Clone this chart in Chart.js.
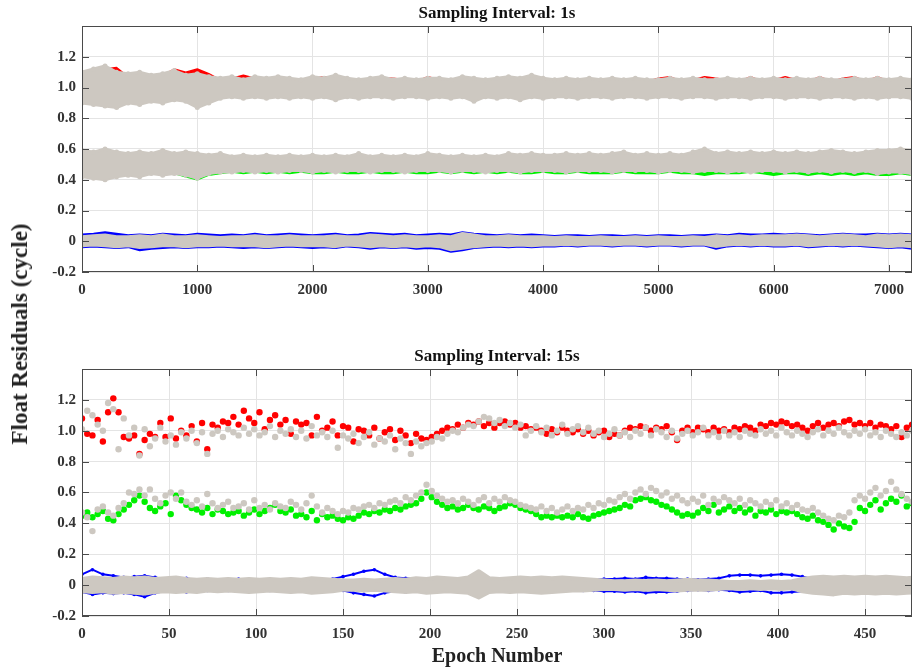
<!DOCTYPE html>
<html lang="en">
<head>
<meta charset="UTF-8">
<title>Float Residuals</title>
<script src="https://cdn.jsdelivr.net/npm/chart.js"></script>
<style>
  body { margin: 0; background: #fff; }
  #wrap { position: relative; width: 916px; height: 668px; overflow: hidden; }
  canvas { position: absolute; left: 0; }
  #topChart { top: 0; }
  #bottomChart { top: 343px; }
  #ylabel {
    position: absolute; left: 20px; top: 334px;
    transform: translate(-50%, -50%) rotate(-90deg);
    font: bold 23px "Liberation Serif", "Times New Roman", serif;
    color: #222; white-space: nowrap;
  }
</style>
</head>
<body>
<div id="wrap">
  <canvas id="topChart" width="916" height="300"></canvas>
  <canvas id="bottomChart" width="916" height="325"></canvas>
  <div id="ylabel">Float Residuals (cycle)</div>
</div>
<script>
// axis ticks
const xTicks1s = [0, 1000, 2000, 3000, 4000, 5000, 6000, 7000];
const xTicks15s = [0, 50, 100, 150, 200, 250, 300, 350, 400, 450];
const yTicks = [-0.2, 0, 0.2, 0.4, 0.6, 0.8, 1.0, 1.2];

// ---- 1 s sampling: edges of each residual band, one value per 100 epochs ----
const step1s = 100;
const grayRTop1s = [1.10, 1.12, 1.14, 1.10, 1.09, 1.10, 1.08, 1.09, 1.11, 1.08, 1.09,
  1.07, 1.06, 1.07, 1.05, 1.07, 1.06, 1.07, 1.06, 1.05, 1.07,
  1.06, 1.08, 1.06, 1.05, 1.06, 1.07, 1.05, 1.06, 1.05, 1.06,
  1.06, 1.05, 1.07, 1.06, 1.05, 1.06, 1.07, 1.06, 1.08, 1.06,
  1.05, 1.06, 1.05, 1.06, 1.05, 1.06, 1.05, 1.06, 1.05, 1.05,
  1.06, 1.05, 1.06, 1.05, 1.05, 1.06, 1.05, 1.06, 1.05, 1.06,
  1.05, 1.06, 1.05, 1.06, 1.05, 1.05, 1.06, 1.05, 1.06, 1.05,
  1.06, 1.05];
const grayRBot1s = [0.90, 0.89, 0.88, 0.87, 0.90, 0.89, 0.91, 0.90, 0.92, 0.91, 0.87,
  0.90, 0.93, 0.94, 0.93, 0.94, 0.93, 0.94, 0.93, 0.94, 0.93,
  0.94, 0.92, 0.94, 0.93, 0.94, 0.94, 0.93, 0.94, 0.94, 0.93,
  0.94, 0.93, 0.94, 0.91, 0.94, 0.93, 0.94, 0.92, 0.94, 0.93,
  0.94, 0.94, 0.93, 0.94, 0.94, 0.93, 0.94, 0.94, 0.93, 0.94,
  0.94, 0.93, 0.94, 0.94, 0.93, 0.94, 0.94, 0.93, 0.94, 0.94,
  0.93, 0.94, 0.94, 0.93, 0.94, 0.94, 0.93, 0.94, 0.93, 0.94,
  0.94, 0.93];
const redTop1s = [1.07, 1.08, 1.12, 1.13, 1.07, 1.08, 1.06, 1.08, 1.12, 1.10, 1.12,
  1.09, 1.05, 1.06, 1.08, 1.06, 1.05, 1.07, 1.05, 1.04, 1.06,
  1.07, 1.07, 1.05, 1.04, 1.05, 1.06, 1.06, 1.05, 1.04, 1.07,
  1.05, 1.04, 1.06, 1.05, 1.04, 1.05, 1.06, 1.05, 1.07, 1.05,
  1.04, 1.05, 1.04, 1.05, 1.04, 1.05, 1.04, 1.05, 1.04, 1.06,
  1.07, 1.04, 1.05, 1.07, 1.06, 1.05, 1.04, 1.07, 1.04, 1.05,
  1.07, 1.05, 1.04, 1.07, 1.04, 1.06, 1.07, 1.04, 1.07, 1.04,
  1.05, 1.04];
const grayGTop1s = [0.59, 0.58, 0.60, 0.58, 0.57, 0.58, 0.57, 0.59, 0.57, 0.58, 0.57,
  0.56, 0.57, 0.55, 0.56, 0.55, 0.56, 0.55, 0.56, 0.55, 0.56,
  0.55, 0.56, 0.55, 0.57, 0.55, 0.56, 0.55, 0.56, 0.55, 0.57,
  0.56, 0.55, 0.56, 0.55, 0.56, 0.55, 0.57, 0.56, 0.57, 0.56,
  0.56, 0.57, 0.56, 0.57, 0.56, 0.57, 0.58, 0.56, 0.57, 0.56,
  0.57, 0.56, 0.58, 0.60, 0.57, 0.58, 0.57, 0.58, 0.57, 0.58,
  0.57, 0.58, 0.57, 0.58, 0.59, 0.58, 0.57, 0.58, 0.59, 0.59,
  0.60, 0.59];
const grayGBot1s = [0.42, 0.41, 0.40, 0.42, 0.43, 0.42, 0.44, 0.43, 0.44, 0.43, 0.41,
  0.44, 0.45, 0.45, 0.46, 0.45, 0.46, 0.45, 0.46, 0.46, 0.45,
  0.46, 0.45, 0.46, 0.46, 0.45, 0.46, 0.46, 0.45, 0.46, 0.46,
  0.46, 0.45, 0.46, 0.46, 0.45, 0.46, 0.46, 0.45, 0.46, 0.46,
  0.46, 0.45, 0.46, 0.46, 0.46, 0.45, 0.46, 0.46, 0.46, 0.45,
  0.46, 0.46, 0.45, 0.46, 0.46, 0.45, 0.46, 0.45, 0.46, 0.46,
  0.45, 0.46, 0.45, 0.46, 0.45, 0.46, 0.45, 0.46, 0.44, 0.45,
  0.45, 0.44];
const greenBot1s = [0.43, 0.42, 0.41, 0.43, 0.44, 0.43, 0.45, 0.44, 0.44, 0.42, 0.40,
  0.43, 0.44, 0.45, 0.44, 0.45, 0.44, 0.45, 0.44, 0.45, 0.44,
  0.44, 0.45, 0.44, 0.44, 0.45, 0.44, 0.44, 0.45, 0.44, 0.44,
  0.45, 0.44, 0.45, 0.44, 0.45, 0.44, 0.45, 0.44, 0.44, 0.45,
  0.44, 0.44, 0.45, 0.44, 0.44, 0.44, 0.45, 0.44, 0.44, 0.44,
  0.45, 0.44, 0.44, 0.43, 0.44, 0.44, 0.44, 0.45, 0.44, 0.43,
  0.44, 0.44, 0.43, 0.44, 0.43, 0.44, 0.43, 0.44, 0.43, 0.43,
  0.44, 0.43];
const grayBTop1s = [0.03, 0.035, 0.04, 0.03, 0.03, 0.035, 0.03, 0.04, 0.03, 0.03, 0.035,
  0.03, 0.025, 0.03, 0.03, 0.035, 0.03, 0.03, 0.035, 0.03, 0.03,
  0.03, 0.035, 0.03, 0.03, 0.04, 0.035, 0.03, 0.035, 0.03, 0.03,
  0.035, 0.03, 0.05, 0.04, 0.03, 0.03, 0.035, 0.03, 0.03, 0.03,
  0.025, 0.03, 0.025, 0.025, 0.03, 0.025, 0.025, 0.03, 0.025, 0.03,
  0.025, 0.025, 0.03, 0.025, 0.035, 0.03, 0.035, 0.03, 0.035, 0.035,
  0.035, 0.04, 0.035, 0.03, 0.035, 0.04, 0.035, 0.03, 0.04, 0.035,
  0.04, 0.035];
const grayBBot1s = [-0.03, -0.025, -0.03, -0.035, -0.03, -0.04, -0.035, -0.03, -0.03, -0.035, -0.03,
  -0.03, -0.025, -0.03, -0.03, -0.03, -0.035, -0.03, -0.025, -0.03, -0.03,
  -0.03, -0.035, -0.025, -0.03, -0.035, -0.03, -0.035, -0.03, -0.035, -0.03,
  -0.035, -0.055, -0.045, -0.035, -0.03, -0.025, -0.03, -0.025, -0.03, -0.025,
  -0.025, -0.02, -0.025, -0.02, -0.02, -0.025, -0.02, -0.02, -0.025, -0.02,
  -0.02, -0.025, -0.02, -0.02, -0.035, -0.025, -0.02, -0.025, -0.02, -0.025,
  -0.025, -0.02, -0.03, -0.025, -0.02, -0.025, -0.02, -0.025, -0.03, -0.035,
  -0.03, -0.035];
const blueTop1s = [0.045, 0.05, 0.06, 0.05, 0.04, 0.045, 0.04, 0.05, 0.045, 0.04, 0.05,
  0.045, 0.04, 0.045, 0.04, 0.05, 0.04, 0.045, 0.05, 0.045, 0.04,
  0.045, 0.05, 0.04, 0.045, 0.055, 0.05, 0.045, 0.05, 0.04, 0.045,
  0.05, 0.045, 0.06, 0.05, 0.045, 0.04, 0.045, 0.04, 0.045, 0.04,
  0.035, 0.04, 0.04, 0.035, 0.04, 0.04, 0.035, 0.04, 0.035, 0.04,
  0.04, 0.035, 0.04, 0.04, 0.045, 0.04, 0.05, 0.045, 0.045, 0.05,
  0.045, 0.05, 0.045, 0.04, 0.045, 0.05, 0.045, 0.045, 0.05, 0.045,
  0.05, 0.045];
const blueBot1s = [-0.04, -0.035, -0.04, -0.045, -0.04, -0.06, -0.05, -0.045, -0.04, -0.045, -0.04,
  -0.04, -0.035, -0.04, -0.045, -0.04, -0.045, -0.04, -0.035, -0.04, -0.045,
  -0.04, -0.045, -0.035, -0.04, -0.05, -0.04, -0.045, -0.04, -0.05, -0.045,
  -0.05, -0.07, -0.06, -0.045, -0.04, -0.035, -0.04, -0.035, -0.04, -0.035,
  -0.035, -0.03, -0.035, -0.03, -0.03, -0.035, -0.03, -0.03, -0.035, -0.03,
  -0.03, -0.035, -0.03, -0.03, -0.05, -0.035, -0.03, -0.035, -0.03, -0.035,
  -0.035, -0.03, -0.04, -0.035, -0.03, -0.035, -0.03, -0.035, -0.04, -0.045,
  -0.04, -0.05];

// ---- 15 s sampling: residuals every 3rd epoch ----
const step15s = 3;
const red15s = [1.08, 0.98, 0.97, 1.07, 0.93, 1.12, 1.21, 1.12, 0.96, 0.95,
  0.97, 0.85, 0.94, 0.98, 0.96, 1.05, 0.96, 1.08, 0.95, 1.00,
  0.97, 1.03, 0.93, 1.05, 0.88, 1.04, 1.02, 1.06, 1.05, 1.09,
  1.04, 1.13, 1.08, 1.05, 1.12, 1.01, 1.07, 1.10, 1.04, 1.07,
  0.98, 1.06, 1.04, 1.05, 0.97, 1.09, 1.00, 1.02, 1.06, 0.97,
  1.03, 1.02, 0.93, 1.01, 1.00, 0.97, 1.02, 0.95, 0.99, 1.01,
  0.94, 1.00, 0.97, 0.92, 0.98, 0.95, 0.94, 0.96, 0.98, 1.00,
  1.02, 1.01, 1.04, 1.02, 1.05, 1.04, 1.06, 1.03, 1.05, 1.02,
  1.05, 1.06, 1.04, 1.05, 1.02, 1.03, 1.01, 1.02, 1.00, 0.98,
  1.01, 0.99, 1.02, 1.00, 0.99, 1.01, 0.98, 1.00, 0.97, 0.99,
  1.00, 0.96, 0.98, 0.97, 1.00, 1.02, 1.01, 1.03, 1.02, 1.00,
  1.02, 1.01, 1.03, 0.99, 0.94, 1.00, 1.02, 0.99, 1.02, 1.01,
  0.99, 1.02, 1.00, 1.01, 0.99, 1.02, 1.01, 1.03, 1.02, 1.00,
  1.04, 1.03, 1.05, 1.04, 1.06, 1.05, 1.03, 1.04, 1.02, 1.00,
  1.03, 1.05, 1.02, 1.04, 1.05, 1.03, 1.06, 1.07, 1.04, 1.05,
  1.03, 1.05, 1.02, 1.04, 1.03, 1.01, 1.03, 0.96, 1.02, 1.04];
const grayR15s = [1.01, 1.13, 1.10, 1.04, 1.00, 1.18, 1.14, 0.88, 1.08, 0.97,
  1.02, 0.84, 1.01, 0.90, 0.95, 1.02, 0.93, 0.97, 0.91, 0.99,
  0.95, 1.00, 0.92, 0.99, 0.85, 0.98, 1.00, 0.96, 1.01, 0.99,
  0.97, 1.02, 0.98, 1.01, 0.97, 0.99, 1.03, 0.96, 1.00, 0.98,
  1.01, 0.96, 1.00, 0.95, 1.03, 0.97, 0.99, 0.96, 1.00, 0.89,
  0.97, 0.95, 0.98, 0.92, 0.96, 0.99, 0.91, 0.95, 0.93, 0.97,
  0.88, 0.95, 0.92, 0.85, 0.93, 0.90, 0.92, 0.93, 0.96, 0.95,
  0.98, 1.00, 0.99, 1.02, 1.04, 1.03, 1.06, 1.09, 1.08, 1.05,
  1.07, 1.03, 1.05, 1.02, 1.04, 0.97, 1.00, 1.03, 0.99, 1.02,
  0.97, 1.00, 1.04, 0.98, 1.01, 1.03, 0.99, 1.02, 0.98, 1.00,
  0.96, 0.98, 1.01, 0.97, 0.99, 0.96, 1.00, 0.98, 1.02, 0.97,
  1.01, 0.99, 0.96, 1.00, 0.95, 0.98, 1.00, 0.97, 0.99, 1.02,
  0.97, 0.99, 0.96, 1.00, 0.97, 0.99, 0.96, 1.00, 0.98, 0.97,
  1.01, 0.98, 1.00, 0.97, 1.02, 0.99, 0.97, 1.00, 0.98, 0.96,
  0.99, 1.01, 0.97, 1.00, 0.98, 1.02, 0.99, 0.97, 1.00, 0.98,
  1.01, 0.97, 0.99, 0.96, 1.00, 0.98, 0.96, 0.99, 0.97, 1.00];
const green15s = [0.45, 0.47, 0.44, 0.46, 0.48, 0.43, 0.42, 0.46, 0.49, 0.52,
  0.55, 0.58, 0.54, 0.50, 0.48, 0.51, 0.53, 0.46, 0.58, 0.55,
  0.52, 0.50, 0.49, 0.47, 0.50, 0.46, 0.49, 0.48, 0.46, 0.47,
  0.48, 0.45, 0.47, 0.49, 0.46, 0.48, 0.50, 0.52, 0.48, 0.47,
  0.49, 0.45, 0.46, 0.44, 0.48, 0.42, 0.46, 0.44, 0.45, 0.43,
  0.42, 0.44, 0.43, 0.45, 0.47, 0.46, 0.48, 0.47, 0.49, 0.48,
  0.50, 0.49, 0.51, 0.52, 0.53, 0.56, 0.60, 0.57, 0.54, 0.52,
  0.50, 0.51, 0.49, 0.50, 0.52, 0.50, 0.49, 0.51, 0.50, 0.48,
  0.50, 0.51, 0.53, 0.52, 0.50, 0.49, 0.48, 0.46, 0.44, 0.45,
  0.44, 0.45, 0.44, 0.45, 0.44, 0.46, 0.44, 0.43, 0.45, 0.46,
  0.47, 0.48, 0.49, 0.50, 0.52, 0.51, 0.55, 0.56, 0.57, 0.55,
  0.54, 0.52, 0.51, 0.49, 0.47, 0.45, 0.46, 0.45, 0.47, 0.50,
  0.48, 0.52, 0.47, 0.49, 0.51, 0.48, 0.50, 0.47, 0.49, 0.45,
  0.48, 0.47, 0.49, 0.46, 0.48, 0.47, 0.48, 0.46, 0.44, 0.43,
  0.45, 0.42, 0.41, 0.39, 0.36, 0.40, 0.38, 0.37, 0.41, 0.50,
  0.48, 0.52, 0.55, 0.49, 0.53, 0.56, 0.54, 0.58, 0.51, 0.53];
const grayG15s = [0.47, 0.44, 0.35, 0.49, 0.51, 0.47, 0.45, 0.50, 0.53, 0.60,
  0.59, 0.62, 0.58, 0.62, 0.56, 0.53, 0.58, 0.60, 0.56, 0.60,
  0.54, 0.52, 0.55, 0.51, 0.59, 0.53, 0.50, 0.52, 0.54, 0.50,
  0.51, 0.53, 0.49, 0.55, 0.50, 0.52, 0.49, 0.53, 0.51, 0.50,
  0.54, 0.52, 0.49, 0.53, 0.58, 0.51, 0.47, 0.50, 0.48, 0.46,
  0.48, 0.47, 0.50, 0.49, 0.51, 0.52, 0.50, 0.53, 0.52, 0.54,
  0.55, 0.53, 0.57, 0.55, 0.58, 0.60, 0.65, 0.61, 0.58, 0.56,
  0.54, 0.55, 0.53, 0.56, 0.54, 0.52, 0.55, 0.57, 0.53, 0.56,
  0.54, 0.57, 0.55, 0.54, 0.52, 0.51, 0.50, 0.49, 0.51, 0.48,
  0.50, 0.47, 0.49, 0.51, 0.48, 0.50, 0.49, 0.52, 0.50, 0.53,
  0.52, 0.55, 0.54, 0.57, 0.59, 0.56, 0.60, 0.62, 0.59, 0.63,
  0.61, 0.58, 0.60, 0.56, 0.58, 0.55, 0.53, 0.56, 0.54, 0.58,
  0.52, 0.56, 0.54, 0.57, 0.55, 0.53, 0.56, 0.52, 0.55, 0.53,
  0.51, 0.54, 0.52, 0.55, 0.51, 0.53, 0.50, 0.52, 0.49, 0.48,
  0.50, 0.47, 0.45, 0.43, 0.42, 0.45, 0.44, 0.47, 0.55, 0.58,
  0.56, 0.60, 0.63, 0.58, 0.61, 0.67, 0.62, 0.59, 0.56, 0.54];

// zero-centred residuals at 15 s: band edges every 6th epoch
const stepZero15s = 6;
const blueTop15s = [0.07, 0.10, 0.07, 0.06, 0.05, 0.055, 0.06, 0.05, 0.04, 0.04,
  0.045, 0.03, 0.04, 0.035, 0.03, 0.04, 0.035, 0.03, 0.035, 0.03,
  0.035, 0.03, 0.035, 0.03, 0.04, 0.055, 0.07, 0.09, 0.10, 0.07,
  0.05, 0.045, 0.04, 0.035, 0.04, 0.035, 0.04, 0.04, 0.05, 0.035,
  0.03, 0.03, 0.035, 0.03, 0.03, 0.035, 0.03, 0.03, 0.035, 0.035,
  0.04, 0.04, 0.045, 0.04, 0.05, 0.045, 0.045, 0.04, 0.04, 0.035,
  0.04, 0.045, 0.06, 0.065, 0.065, 0.06, 0.065, 0.07, 0.065, 0.055,
  0.04, 0.04, 0.035, 0.04, 0.035, 0.04, 0.035, 0.04, 0.035, 0.04,
  0.035];
const blueBot15s = [-0.045, -0.06, -0.05, -0.055, -0.05, -0.06, -0.075, -0.05, -0.04, -0.035,
  -0.045, -0.04, -0.035, -0.04, -0.035, -0.04, -0.035, -0.04, -0.035, -0.04,
  -0.035, -0.04, -0.035, -0.04, -0.035, -0.035, -0.05, -0.06, -0.07, -0.05,
  -0.04, -0.045, -0.04, -0.035, -0.04, -0.035, -0.04, -0.045, -0.06, -0.04,
  -0.035, -0.03, -0.035, -0.03, -0.035, -0.03, -0.035, -0.03, -0.035, -0.035,
  -0.04, -0.04, -0.045, -0.04, -0.05, -0.045, -0.045, -0.04, -0.035, -0.03,
  -0.035, -0.03, -0.035, -0.045, -0.04, -0.035, -0.05, -0.05, -0.045, -0.04,
  -0.035, -0.04, -0.035, -0.04, -0.035, -0.04, -0.035, -0.04, -0.035, -0.04,
  -0.035];
const grayZTop15s = [0.04, 0.05, 0.045, 0.04, 0.05, 0.045, 0.05, 0.04, 0.045, 0.05,
  0.04, 0.035, 0.04, 0.035, 0.04, 0.035, 0.04, 0.035, 0.04, 0.035,
  0.04, 0.035, 0.045, 0.04, 0.035, 0.03, 0.03, 0.035, 0.03, 0.035,
  0.04, 0.035, 0.045, 0.04, 0.05, 0.045, 0.04, 0.05, 0.09, 0.045,
  0.04, 0.045, 0.05, 0.045, 0.05, 0.045, 0.05, 0.045, 0.04, 0.035,
  0.03, 0.025, 0.025, 0.03, 0.025, 0.03, 0.025, 0.03, 0.035, 0.03,
  0.03, 0.025, 0.02, 0.02, 0.025, 0.02, 0.025, 0.02, 0.025, 0.04,
  0.05, 0.055, 0.05, 0.055, 0.05, 0.055, 0.05, 0.055, 0.05, 0.045,
  0.05];
const grayZBot15s = [-0.04, -0.045, -0.04, -0.05, -0.045, -0.05, -0.055, -0.045, -0.04, -0.045,
  -0.04, -0.045, -0.035, -0.04, -0.035, -0.04, -0.045, -0.04, -0.035, -0.04,
  -0.045, -0.04, -0.05, -0.045, -0.04, -0.03, -0.03, -0.035, -0.03, -0.035,
  -0.04, -0.045, -0.04, -0.05, -0.045, -0.04, -0.045, -0.05, -0.08, -0.045,
  -0.04, -0.045, -0.04, -0.045, -0.05, -0.045, -0.04, -0.035, -0.035, -0.03,
  -0.025, -0.025, -0.03, -0.025, -0.03, -0.025, -0.03, -0.035, -0.03, -0.03,
  -0.03, -0.025, -0.02, -0.025, -0.02, -0.025, -0.02, -0.025, -0.02, -0.04,
  -0.05, -0.055, -0.06, -0.05, -0.055, -0.05, -0.055, -0.05, -0.055, -0.05,
  -0.045];

const RED = '#ff0000', GREEN = '#00f000', BLUE = '#0000ff', GRAY = '#cdc8c1';
const SERIF = '"Liberation Serif", "Times New Roman", serif';

const toPoints = (vals, step) => vals.map((y, i) => ({ x: i * step, y }));

// band edge line (fill target given by the caller)
function edge(vals, step, color, width, fill, order, dot = 0) {
  return {
    data: toPoints(vals, step), borderColor: color, backgroundColor: color,
    borderWidth: width, pointRadius: dot, pointBorderWidth: 0, fill, order, clip: 0,
    borderJoinStyle: 'round', borderCapStyle: 'round'
  };
}

// single scatter series
function dots(vals, step, color, order) {
  return {
    data: toPoints(vals, step), showLine: false, fill: false, order, clip: 0,
    pointRadius: 3.2, pointBorderWidth: 0, backgroundColor: color, borderColor: color
  };
}

// box around the plot with inward tick marks on all four sides
const frame = {
  id: 'frame',
  afterDraw(chart) {
    const { ctx, chartArea: a, scales: { x, y } } = chart;
    ctx.save();
    ctx.strokeStyle = '#4a4a4a';
    ctx.lineWidth = 1;
    ctx.strokeRect(a.left + 0.5, a.top + 0.5, a.width - 1, a.height - 1);
    ctx.beginPath();
    x.ticks.forEach(t => {
      const px = Math.round(x.getPixelForValue(t.value)) + 0.5;
      ctx.moveTo(px, a.bottom); ctx.lineTo(px, a.bottom - 7);
      ctx.moveTo(px, a.top); ctx.lineTo(px, a.top + 7);
    });
    y.ticks.forEach(t => {
      const py = Math.round(y.getPixelForValue(t.value)) + 0.5;
      ctx.moveTo(a.left, py); ctx.lineTo(a.left + 7, py);
      ctx.moveTo(a.right, py); ctx.lineTo(a.right - 7, py);
    });
    ctx.stroke();
    ctx.restore();
  }
};

const tickFont = { family: SERIF, size: 15, weight: 'bold' };

function panelOptions(title, xMax, xTicks, xHeight, xTitle) {
  return {
    responsive: false,
    animation: false,
    events: [],
    layout: { padding: { left: 0, right: 1, top: 0, bottom: 0 } },
    plugins: {
      legend: { display: false },
      tooltip: { enabled: false },
      title: {
        display: true, text: title, fullSize: false, color: '#111',
        font: { family: SERIF, size: 17, weight: 'bold', lineHeight: 1 },
        padding: { top: 5, bottom: 4 }
      }
    },
    scales: {
      x: {
        type: 'linear', min: 0, max: xMax,
        afterBuildTicks: s => { s.ticks = xTicks.map(v => ({ value: v })); },
        afterFit: s => { s.height = xHeight; },
        grid: { color: '#e4e4e4', drawTicks: false },
        border: { display: false },
        ticks: {
          padding: 9, color: '#333', font: tickFont,
          maxRotation: 0, autoSkip: false, callback: v => String(v)
        },
        title: xTitle ? {
          display: true, text: xTitle, color: '#222',
          font: { family: SERIF, size: 20, weight: 'bold', lineHeight: 1.1 },
          padding: { top: 0, bottom: 0 }
        } : { display: false }
      },
      y: {
        type: 'linear', min: -0.2, max: 1.4,
        afterBuildTicks: s => { s.ticks = yTicks.map(v => ({ value: v })); },
        afterFit: s => { s.width = 82; },
        grid: { color: '#e4e4e4', drawTicks: false },
        border: { display: false },
        ticks: {
          padding: 6, color: '#333', font: tickFont, autoSkip: false,
          callback: v => Math.abs(v) < 1e-9 ? '0' : v.toFixed(1)
        }
      }
    }
  };
}

// gray series are drawn above the coloured ones (lower order = on top)
new Chart(document.getElementById('topChart'), {
  type: 'line',
  data: {
    datasets: [
      edge(grayRTop1s, step1s, GRAY, 3, '+1', 0, 2.5),
      edge(grayRBot1s, step1s, GRAY, 3, false, 0, 2.5),
      edge(redTop1s, step1s, RED, 1.5, 1, 1),
      edge(grayGTop1s, step1s, GRAY, 3, '+1', 0, 2.5),
      edge(grayGBot1s, step1s, GRAY, 3, false, 0, 2.5),
      edge(greenBot1s, step1s, GREEN, 1.5, 3, 1),
      edge(grayBTop1s, step1s, GRAY, 3, '+1', 0),
      edge(grayBBot1s, step1s, GRAY, 3, false, 0),
      edge(blueTop1s, step1s, BLUE, 1.5, '+1', 1),
      edge(blueBot1s, step1s, BLUE, 1.5, false, 1)
    ]
  },
  options: panelOptions('Sampling Interval: 1s', 7200, xTicks1s, 28, null),
  plugins: [frame]
});

new Chart(document.getElementById('bottomChart'), {
  type: 'line',
  data: {
    datasets: [
      dots(grayR15s, step15s, GRAY, 0),
      dots(red15s, step15s, RED, 1),
      dots(grayG15s, step15s, GRAY, 0),
      dots(green15s, step15s, GREEN, 1),
      edge(grayZTop15s, stepZero15s, GRAY, 4, '+1', 0),
      edge(grayZBot15s, stepZero15s, GRAY, 4, false, 0),
      // blue residuals sit in two thin strands above and below the gray band
      edge(blueTop15s, stepZero15s, BLUE, 2, false, 1, 1.8),
      edge(blueBot15s, stepZero15s, BLUE, 2, false, 1, 1.8)
    ]
  },
  options: panelOptions('Sampling Interval: 15s', 477, xTicks15s, 52, 'Epoch Number'),
  plugins: [frame]
});
</script>
</body>
</html>
